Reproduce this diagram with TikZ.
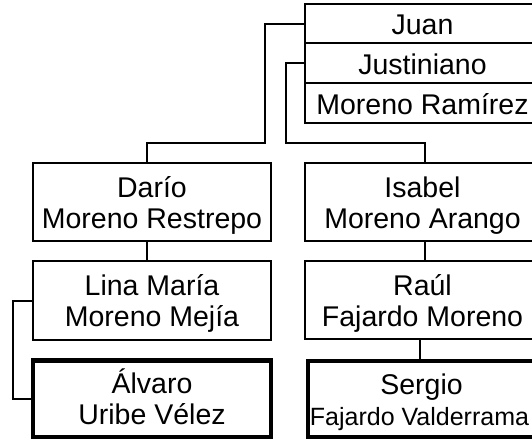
\documentclass[tikz,border=0pt]{standalone}
\usepackage{fontspec}
\setmainfont{Liberation Sans}
\newcommand\topstr{\rule{0pt}{28pt}}
\newcommand\botstr{\rule[-7pt]{0pt}{7pt}}
\begin{document}
\begin{tikzpicture}[x=1pt,y=-1pt,
  line width=2pt,
  person/.style={draw, rectangle, inner sep=0pt, align=center,
    font=\fontsize{28.5}{31}\selectfont},
  rowbox/.style={person, minimum width=235pt, text height=22pt, text depth=0pt},
  thickbox/.style={person, line width=4.3pt},
  leftcol/.style={minimum width=238pt},
  rightcol/.style={minimum width=235pt}]
\useasboundingbox (0,0) rectangle (532,439);
\clip (0,0) rectangle (532,439);
\fill[white] (0,0) rectangle (532,439);
% top person
\node[rowbox, minimum height=39pt] (juan) at (422.5,23.5) {Juan};
\node[rowbox, minimum height=40pt] (just) at (422.5,63) {Justiniano};
\node[rowbox, minimum height=40pt] (mram) at (422.5,103) {Moreno Ramírez};
% left column
\node[person, leftcol, minimum height=78pt] (dario) at (152,202) {\topstr Darío\\Moreno Restrepo\botstr};
\node[person, leftcol, minimum height=79pt] (lina) at (152,300.5) {\topstr Lina María\\Moreno Mejía\botstr};
\node[thickbox, leftcol, minimum height=76.5pt] (alvaro) at (152,398.75) {\topstr Álvaro\\Uribe Vélez\botstr};
% right column
\node[person, rightcol, minimum height=78pt] (isabel) at (422.5,202) {\topstr Isabel\\Moreno Arango\botstr};
\node[person, rightcol, minimum height=78pt] (raul) at (422.5,300) {\topstr Raúl\\Fajardo Moreno\botstr};
\node[thickbox, minimum width=231pt, minimum height=76pt] (sergio) at (423.5,399) {\topstr Sergio\hspace*{4pt}\\{\fontsize{25}{31}\selectfont Fajardo Valderrama}\hspace*{8pt}\botstr};
% connectors
\coordinate (j1) at (265,143.3);
\coordinate (j2) at (286,143.3);
\coordinate (l1) at (13,399);
\draw (juan.west) -| (j1) -| ([xshift=-5pt]dario.north);
\draw (just.west) -| (j2) -| ([xshift=2.5pt]isabel.north);
\draw ([xshift=-5pt]dario.south) -- ([xshift=-5pt]lina.north);
\draw ([xshift=2.5pt]isabel.south) -- ([xshift=2.5pt]raul.north);
\draw ([xshift=-2.5pt]raul.south) -- ([xshift=-3.5pt]sergio.north);
\draw (lina.west) -| (l1) -- (alvaro.west |- l1);
\end{tikzpicture}
\end{document}
